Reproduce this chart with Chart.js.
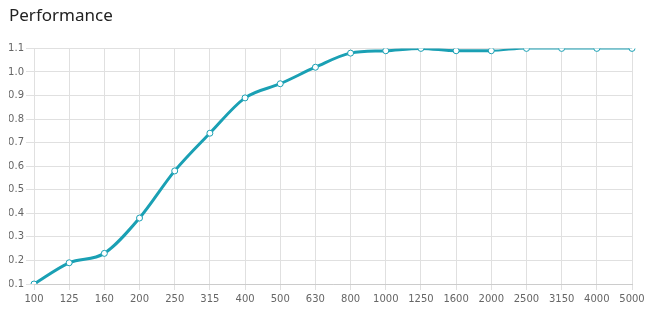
<!DOCTYPE html>
<html><head><meta charset="utf-8">
<script src="https://cdn.jsdelivr.net/npm/chart.js@4/dist/chart.umd.min.js"></script>
<style>html,body{margin:0;padding:0;background:#fff}#wrap{width:654px;height:318px}</style>
</head><body><div id="wrap"><canvas id="c"></canvas></div>
<script>
const categories = ['100','125','160','200','250','315','400','500','630','800','1000','1250','1600','2000','2500','3150','4000','5000'];
const performance = [0.10,0.19,0.23,0.38,0.58,0.74,0.89,0.95,1.02,1.08,1.09,1.10,1.09,1.09,1.10,1.10,1.10,1.10];
const color = '#1aa0b4';
new Chart(document.getElementById('c'), {
  type: 'line',
  data: { labels: categories, datasets: [{
    data: performance, borderColor: color, backgroundColor: '#fff',
    borderWidth: 3, tension: 0.4, cubicInterpolationMode: 'monotone',
    pointRadius: 3, pointBorderWidth: 1, pointBackgroundColor: '#fff', pointBorderColor: color,
    segment: { borderWidth: ctx => ctx.p0DataIndex >= 13 ? 2 : 3 }
  }]},
  options: {
    responsive: true, maintainAspectRatio: false, animation: false,
    layout: { padding: { left: 9, right: 22, top: 4, bottom: 10 } },
    plugins: { legend: { display: false }, tooltip: { enabled: false },
      title: { display: true, text: 'Performance', align: 'start', color: '#222',
        font: { family: 'Noto Sans', size: 17, weight: 'normal' }, padding: { top: 2, bottom: 22 } } },
    scales: {
      x: { offset: false, grid: { color: '#e0e0e0', tickLength: 6 }, border: { color: '#ccc' },
        ticks: { color: '#666', font: { family: 'DejaVu Sans', size: 10 }, maxRotation: 0, autoSkip: false } },
      y: { min: 0.1, max: 1.1, grid: { color: '#e0e0e0', tickLength: 8 }, border: { display: false },
        afterFit: s => { s.width = 25; },
        ticks: { stepSize: 0.1, padding: 2, color: '#666', font: { family: 'DejaVu Sans', size: 10 }, callback: v => v.toFixed(1) } }
    }
  }
});
</script></body></html>
